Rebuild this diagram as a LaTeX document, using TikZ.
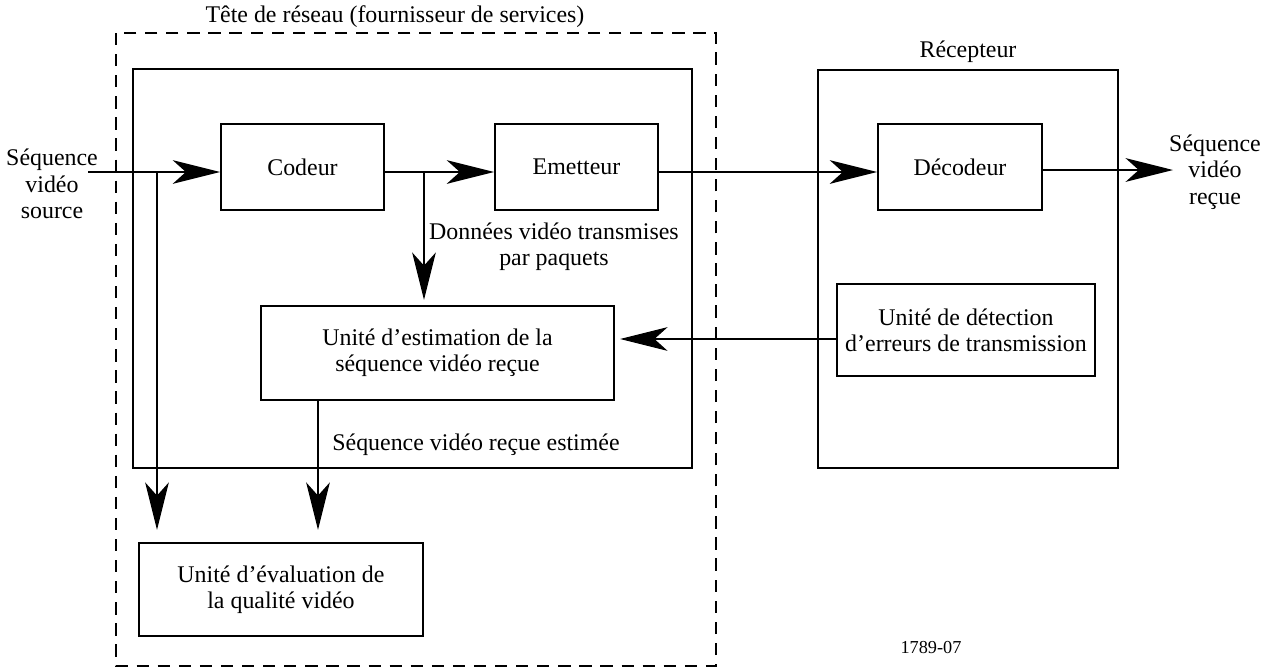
\documentclass[tikz,border=0pt]{standalone}
\usepackage{fontspec}
\setmainfont{Liberation Serif}
\usetikzlibrary{arrows.meta}
\tikzset{
  blok/.style={draw, line width=1pt, inner sep=0pt, align=center},
  cadre/.style={draw, line width=1pt},
  fleche/.style={line width=0.9pt, -{Stealth[length=27pt, width=13.5pt, inset=7.5pt]}},
  etiquette/.style={inner sep=0pt, align=center}
}
\begin{document}
\begin{tikzpicture}[x=0.02cm, y=-0.02cm, font=\fontsize{13.6pt}{15pt}\selectfont]
			%%%%% CADRES %%%%%
			\useasboundingbox (0, 0) rectangle (1274, 670);
			\draw[line width=0.9pt, dash pattern=on 7pt off 5pt] (116, 33) rectangle (716, 666);
			\draw[cadre] (133, 69) rectangle (692, 468);
			\draw[cadre] (818, 70) rectangle (1118, 468);
			
			\node[etiquette] (tete) at (395, 17) {Tête de réseau (fournisseur de services)};
			\node[etiquette] (recepteur) at (968, 52) {Récepteur};
			
			%%%%% BLOCS %%%%%
			\node[blok, minimum width=163*0.02cm, minimum height=86*0.02cm] (codeur) at (302.5, 167) {Codeur};
			\node[blok, minimum width=163*0.02cm, minimum height=86*0.02cm] (emetteur) at (576.5, 167) {Emetteur};
			\node[blok, minimum width=164*0.02cm, minimum height=86*0.02cm] (decodeur) at (960, 167) {Décodeur};
			\node[blok, minimum width=353*0.02cm, minimum height=94*0.02cm] (estim) at (437.5, 353) {Unité d’estimation de la\\séquence vidéo reçue};
			\node[blok, minimum width=258*0.02cm, minimum height=92*0.02cm] (detect) at (966, 330) {Unité de détection\\d’erreurs de transmission};
			\node[blok, minimum width=284*0.02cm, minimum height=93*0.02cm] (eval) at (281, 589.5) {Unité d’évaluation de\\la qualité vidéo};
			
			%%%%% TEXTES %%%%%
			\node[etiquette] (source) at (52, 184) {Séquence\\vidéo\\source};
			\node[etiquette] (recue) at (1215, 172) {Séquence\\vidéo\\reçue};
			\node[etiquette] (donnees) at (554, 247) {Données vidéo transmises\\par paquets};
			\node[etiquette] (estimee) at (476, 445) {Séquence vidéo reçue estimée};
			\node[etiquette, font=\fontsize{10.4pt}{12pt}\selectfont] (numero) at (931, 648) {1789-07};
			
			%%%%% LIAISONS %%%%%
			\coordinate (entree) at (88, 172);
			\coordinate (sortie) at (1173, 170);
			\coordinate (branche1) at (157, 172);
			\coordinate (branche2) at (424, 172);
			
			\draw[fleche] (entree) -- (entree -| codeur.west);
			\draw[fleche] (codeur.east |- entree) -- (emetteur.west |- entree);
			\draw[fleche] (emetteur.east |- entree) -- (decodeur.west |- entree);
			\draw[fleche] (decodeur.east |- sortie) -- (sortie);
			
			\draw[fleche, shorten >=7pt] (branche1) -- (branche1 |- eval.north);
			\draw[fleche, shorten >=3pt] (branche2) -- (branche2 |- estim.north);
			\draw[fleche, shorten >=7pt] (estim.south -| 318, 0) -- (eval.north -| 318, 0);
			\draw[fleche, line width=0.6pt, shorten >=3pt] (detect.west |- 0, 339) -- (estim.east |- 0, 339);
			
			%%%%% FIN %%%%%
\end{tikzpicture}
\end{document}
